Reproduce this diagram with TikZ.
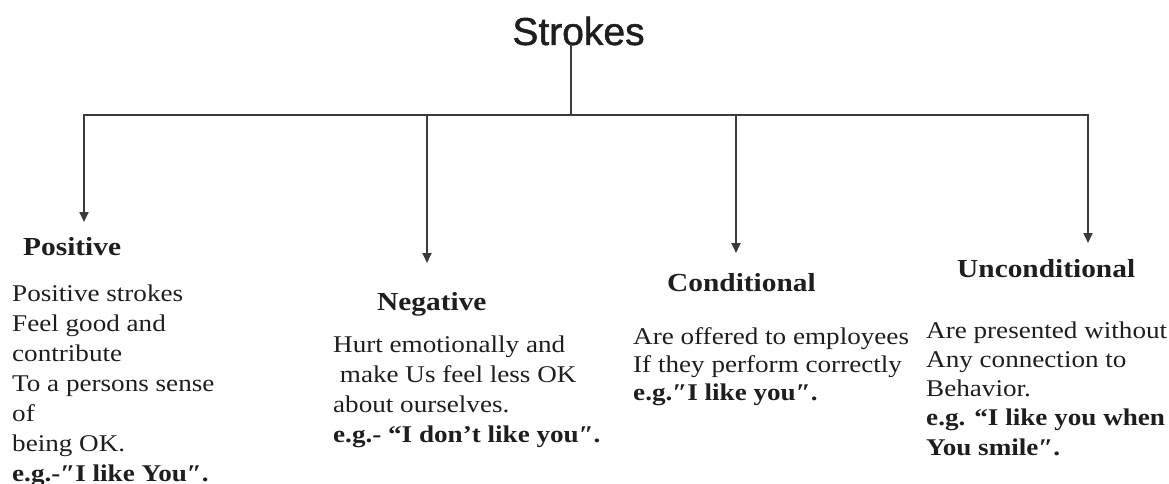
\documentclass[tikz,border=0pt]{standalone}
\usepackage{fontspec}
\setmainfont{Liberation Serif}[FakeStretch=1.13]
\newfontfamily\titlefont{Liberation Sans}[FakeBold=1.2]
\usetikzlibrary{arrows.meta}
\definecolor{linec}{HTML}{3A3A3A}
\definecolor{textc}{HTML}{1E1E1E}
\newcommand{\fl}{\rule{0pt}{20pt}}
\tikzset{
  conn/.style={draw=linec, line width=1.8pt},
  arr/.style={conn, -{Triangle[length=10pt,width=9pt]}},
  head/.style={inner sep=0pt, anchor=base west, text=textc, font=\fontsize{26}{30}\selectfont\bfseries},
  body/.style={inner sep=0pt, anchor=north west, align=left, text=textc, font=\fontsize{24}{30}\selectfont},
  bodyc/.style={body, font=\fontsize{24}{28}\selectfont},
  ttl/.style={inner sep=0pt, anchor=base, text=textc, font=\titlefont\fontsize{39}{44}\selectfont}
}
\begin{document}
\begin{tikzpicture}[x=1pt, y=-1pt]
\useasboundingbox (0,0) rectangle (1169,484);
% title
\node[ttl] (title) at (578.5,45) {Strokes};
\coordinate (tbot) at (571,44);
\coordinate (hub) at (571,115);
\coordinate (bl) at (84,115);
\coordinate (b2) at (427,115);
\coordinate (b3) at (736,115);
\coordinate (br) at (1088,115);
\coordinate (e1) at (84,222);
\coordinate (e2) at (427,263);
\coordinate (e3) at (736,253);
\coordinate (e4) at (1088,243);
\draw[conn] (tbot) -- (hub);
\draw[conn, line cap=rect] (bl) -- (br);
\draw[arr] (bl) -- (e1);
\draw[arr] (b2) -- (e2);
\draw[arr] (b3) -- (e3);
\draw[arr] (br) -- (e4);
% headings
\node[head] (hpos) at (23,255) {Positive};
\node[head] (hneg) at (377,310) {Negative};
\node[head] (hcon) at (667,291) {Conditional};
\node[head] (hunc) at (957,277) {Unconditional};
% bodies
\node[body] (tpos) at (12,281) {\fl Positive strokes\\Feel good and\\contribute\\To a persons sense\\of\\being OK.\\\textbf{e.g.-″I like You″.}};
\node[body] (tneg) at (333,332) {\fl Hurt emotionally and\\\ make Us feel less OK\\about ourselves.\\\textbf{e.g.- “I don’t like you″.}};
\node[bodyc] (tcon) at (633,324) {\fl Are offered to employees\\If they perform correctly\\\textbf{e.g.″I like you″.}};
\node[body, font=\fontsize{24}{29.2}\selectfont] (tunc) at (926,318) {\fl Are presented without\\Any connection to\\Behavior.\\\textbf{e.g. “I like you when}\\\textbf{You smile″.}};
\end{tikzpicture}
\end{document}
